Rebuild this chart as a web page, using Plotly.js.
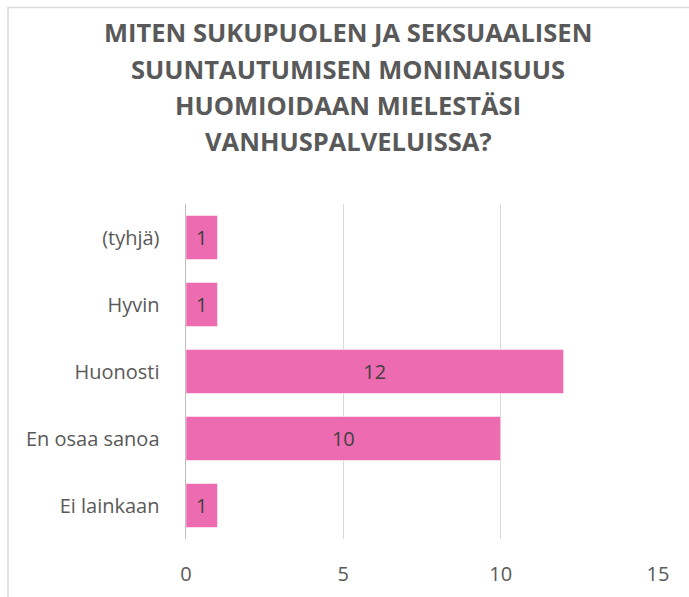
<!DOCTYPE html>
<html>
<head>
<meta charset="utf-8">
<script src="https://cdn.plot.ly/plotly-3.0.1.min.js"></script>
<style>
html,body{margin:0;padding:0;background:#fff;}
#chart{width:689px;height:597px;}
</style>
</head>
<body>
<div id="chart"></div>
<script>
const categories = ['Ei lainkaan', 'En osaa sanoa', 'Huonosti', 'Hyvin', '(tyhjä)'];
const values = [1, 10, 12, 1, 1];
const titleLines = [
  'MITEN SUKUPUOLEN JA SEKSUAALISEN',
  'SUUNTAUTUMISEN MONINAISUUS',
  'HUOMIOIDAAN MIELESTÄSI',
  'VANHUSPALVELUISSA?'
];
const xTicks = [0, 5, 10, 15];

const W = 689, H = 597;
const mL = 186, mR = 31, mT = 204, mB = 58;
const pw = W - mL - mR, ph = H - mT - mB;
const px2x = p => (p - mL) / pw;
const py2y = p => (H - mB - p) / ph;

const FONT = '"Open Sans", Lato, sans-serif';
const titleY = [32, 69, 105, 141];
const annotations = titleLines.map((t, i) => ({
  text: '<b>' + t + '</b>',
  xref: 'paper', yref: 'paper',
  x: px2x(348), y: py2y(titleY[i]),
  xanchor: 'center', yanchor: 'middle',
  showarrow: false,
  font: {family: FONT, size: 25.5, color: '#595959'}
}));

const trace = {
  type: 'bar',
  orientation: 'h',
  y: categories,
  x: values,
  text: values.map(String),
  textposition: 'inside',
  insidetextanchor: 'middle',
  textangle: 0,
  constraintext: 'none',
  textfont: {family: FONT, size: 20, color: '#404040'},
  marker: {color: '#ED6BB0', line: {color: 'rgba(255,255,255,0.5)', width: 1}},
  hoverinfo: 'none'
};

const layout = {
  width: W, height: H,
  margin: {l: mL, r: mR, t: mT, b: mB, pad: 0},
  paper_bgcolor: '#ffffff',
  plot_bgcolor: '#ffffff',
  showlegend: false,
  bargap: 0.343,
  font: {family: FONT, color: '#595959'},
  xaxis: {
    range: [0, 15],
    tickvals: xTicks,
    ticktext: xTicks.map(String),
    showgrid: true,
    gridcolor: '#D9D9D9',
    gridwidth: 1.3,
    zeroline: false,
    showline: false,
    ticks: '',
    ticklabelstandoff: 21,
    tickfont: {size: 20, color: '#595959'},
    fixedrange: true
  },
  yaxis: {
    categoryorder: 'array',
    categoryarray: categories,
    showgrid: false,
    zeroline: false,
    showline: true,
    linecolor: '#BFBFBF',
    linewidth: 1.5,
    ticks: '',
    ticklabelstandoff: 21,
    tickfont: {size: 20, color: '#595959'},
    fixedrange: true
  },
  annotations: annotations,
  shapes: [{
    type: 'rect',
    xref: 'paper', yref: 'paper',
    x0: px2x(8), x1: px2x(720),
    y0: py2y(640), y1: py2y(7.5),
    line: {color: '#D9D9D9', width: 1.5},
    fillcolor: 'rgba(0,0,0,0)',
    layer: 'below'
  }]
};

Plotly.newPlot('chart', [trace], layout, {displayModeBar: false, staticPlot: true});
</script>
</body>
</html>
